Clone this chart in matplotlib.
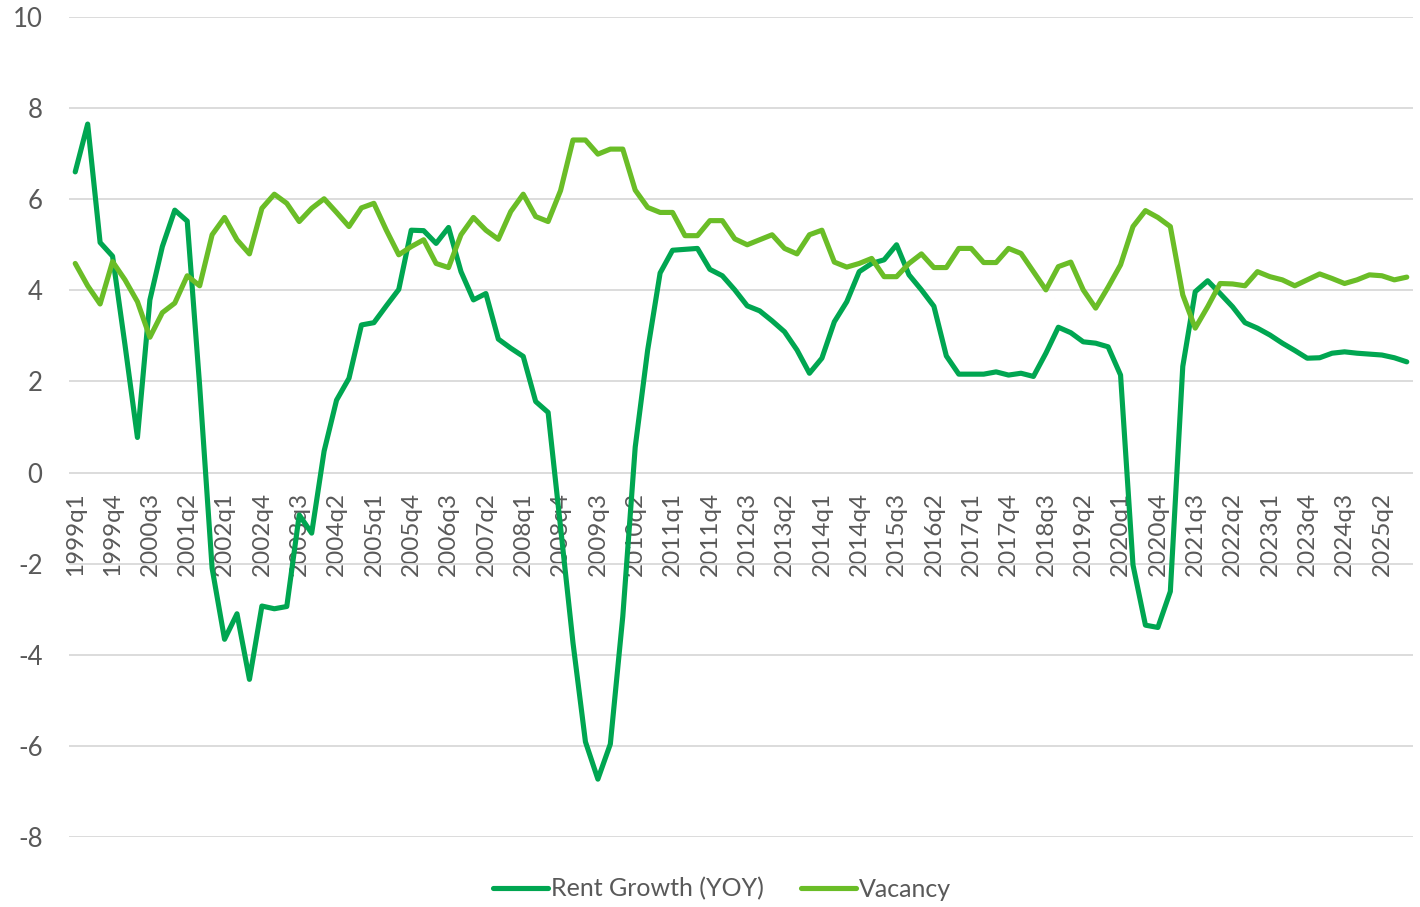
import matplotlib
matplotlib.use("Agg")
import matplotlib.pyplot as plt

# quarterly series, 1999q1 .. 2025q4
years = list(range(1999, 2026))
quarters = [f"{y}q{q}" for y in years for q in range(1, 5)]

rent_growth = [
    6.60, 7.65, 5.05, 4.75, 2.80, 0.77, 3.79, 4.96, 5.76, 5.52,
    1.90, -2.10, -3.66, -3.10, -4.54, -2.93, -2.99, -2.94, -0.93, -1.33,
    0.47, 1.59, 2.07, 3.24, 3.29, 3.66, 4.02, 5.32, 5.31, 5.03,
    5.38, 4.41, 3.79, 3.93, 2.93, 2.73, 2.55, 1.56, 1.32, -1.20,
    -3.74, -5.91, -6.73, -5.96, -3.16, 0.56, 2.69, 4.38, 4.88, 4.90,
    4.92, 4.46, 4.32, 4.01, 3.66, 3.55, 3.33, 3.09, 2.69, 2.18,
    2.51, 3.31, 3.75, 4.41, 4.59, 4.67, 5.00, 4.34, 4.01, 3.65,
    2.56, 2.16, 2.16, 2.16, 2.21, 2.14, 2.18, 2.11, 2.62, 3.19,
    3.07, 2.87, 2.84, 2.76, 2.14, -2.03, -3.35, -3.40, -2.61, 2.33,
    3.97, 4.21, 3.93, 3.64, 3.29, 3.17, 3.02, 2.84, 2.68, 2.51,
    2.52, 2.62, 2.65, 2.62, 2.60, 2.58, 2.52, 2.43,
]

vacancy = [
    4.59, 4.10, 3.70, 4.63, 4.23, 3.75, 2.97, 3.51, 3.72, 4.32,
    4.10, 5.22, 5.60, 5.11, 4.80, 5.80, 6.11, 5.91, 5.51, 5.80,
    6.01, 5.71, 5.40, 5.81, 5.91, 5.32, 4.78, 4.96, 5.11, 4.59,
    4.50, 5.22, 5.60, 5.32, 5.12, 5.73, 6.11, 5.62, 5.51, 6.19,
    7.30, 7.30, 6.99, 7.10, 7.10, 6.20, 5.82, 5.71, 5.71, 5.20,
    5.20, 5.53, 5.53, 5.13, 5.00, 5.11, 5.22, 4.92, 4.80, 5.22,
    5.32, 4.62, 4.51, 4.59, 4.70, 4.30, 4.30, 4.59, 4.80, 4.50,
    4.50, 4.92, 4.92, 4.61, 4.61, 4.92, 4.81, 4.41, 4.01, 4.52,
    4.62, 4.01, 3.61, 4.07, 4.56, 5.40, 5.75, 5.60, 5.40, 3.90,
    3.17, 3.64, 4.15, 4.14, 4.10, 4.41, 4.30, 4.23, 4.10, 4.23,
    4.36, 4.26, 4.15, 4.23, 4.34, 4.32, 4.23, 4.29,
]

plt.rcParams['font.family'] = ['Lato', 'DejaVu Sans']
plt.rcParams['axes.unicode_minus'] = False
txt_color = "#595959"

fig = plt.figure(figsize=(14.2, 9.07), dpi=100)
ax = fig.add_axes([69 / 1420, 1 - 837 / 907, (1413 - 69) / 1420, (837 - 17) / 907])

# category labels sit right under the zero line
ax.spines['bottom'].set_position(('data', 0))
for s in ax.spines.values():
    s.set_visible(False)

x = list(range(len(quarters)))
ax.plot(x, rent_growth, color="#00A651", lw=3.7, label="Rent Growth (YOY)",
        solid_joinstyle="round", solid_capstyle="round")
ax.plot(x, vacancy, color="#6ABD27", lw=3.7, label="Vacancy",
        solid_joinstyle="round", solid_capstyle="round")

ax.set_xlim(-0.5, len(quarters) - 0.5)
ax.set_ylim(-8, 10)
ax.set_yticks(range(-8, 11, 2))
ax.yaxis.grid(True, color="#D9D9D9", lw=1.3)
ax.set_axisbelow(True)

ax.set_xticks(x[::3])
ax.set_xticklabels(quarters[::3], rotation=90, fontsize=17.5, color=txt_color)
ax.tick_params(axis='x', length=0, pad=14)
ax.tick_params(axis='y', length=0, pad=19, labelsize=18.5, labelcolor=txt_color)

fig.legend(loc='center', bbox_to_anchor=(722 / 1420, 1 - 889 / 907), ncol=2,
           frameon=False, fontsize=18, labelcolor=txt_color,
           handlelength=2.2, handletextpad=0.1, columnspacing=1.5)

fig.savefig("out.png", dpi=100)
